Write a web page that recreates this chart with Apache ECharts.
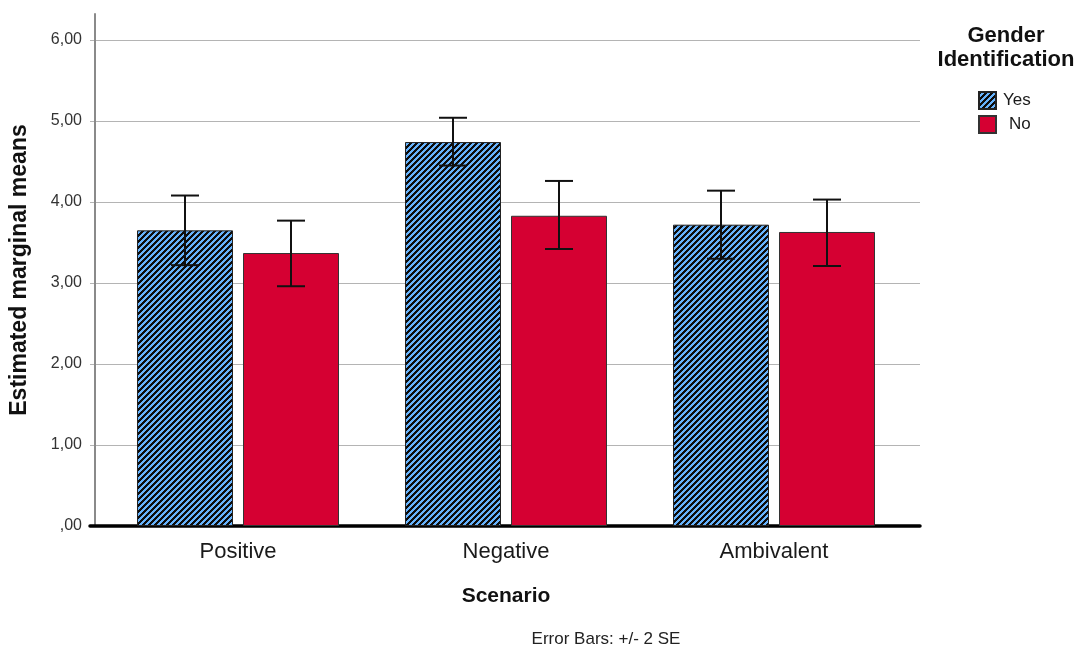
<!DOCTYPE html>
<html>
<head>
<meta charset="utf-8">
<script src="https://cdn.jsdelivr.net/npm/echarts@6/dist/echarts.min.js"></script>
<style>
  html, body { margin: 0; padding: 0; background: #fff; }
  #chart { width: 1084px; height: 666px; }
</style>
</head>
<body>
<div id="chart"></div>
<script>
// 数据
const categories = ['Positive', 'Negative', 'Ambivalent'];
const seriesNames = ['Yes', 'No'];
const yesMeans = [3.65, 4.74, 3.72];
const noMeans = [3.37, 3.83, 3.63];
// 误差线 +/- 2 SE
const yesLow = [3.22, 4.45, 3.30];
const yesHigh = [4.08, 5.04, 4.14];
const noLow = [2.96, 3.42, 3.21];
const noHigh = [3.77, 4.26, 4.03];
const yTicks = [0, 1, 2, 3, 4, 5, 6];

const FONT = '"Liberation Sans", Arial, sans-serif';
const BAR_W = 96;
const BAR_GAP = 10;
const CAP_W = 28;

// 斜线填充（逐像素，避免抗锯齿发灰）
function makeHatch() {
    const s = 6;
    const c = document.createElement('canvas');
    c.width = s; c.height = s;
    const ctx = c.getContext('2d');
    for (let y = 0; y < s; y++) {
        for (let x = 0; x < s; x++) {
            ctx.fillStyle = ((x + y) % s) < 3 ? '#0d0d0d' : '#66b2fc';
            ctx.fillRect(x, y, 1, 1);
        }
    }
    return c;
}
const hatch = { image: makeHatch(), repeat: 'repeat' };
const red = '#d50032';

const chart = echarts.init(document.getElementById('chart'), null, { renderer: 'canvas' });

function errorSeries(name, low, high, offset) {
    return {
        name: name + ' err',
        type: 'custom',
        xAxisIndex: 2,
        yAxisIndex: 2,
        z: 5,
        data: categories.map((c, i) => [i, low[i], high[i]]),
        renderItem: function (params, api) {
            const lo = api.coord([api.value(0), api.value(1)]);
            const hi = api.coord([api.value(0), api.value(2)]);
            const x = lo[0] + offset;
            const style = { stroke: '#111', lineWidth: 2 };
            return {
                type: 'group',
                children: [
                    { type: 'line', shape: { x1: x, y1: hi[1], x2: x, y2: lo[1] }, style: style },
                    { type: 'line', shape: { x1: x - CAP_W / 2, y1: hi[1], x2: x + CAP_W / 2, y2: hi[1] }, style: style },
                    { type: 'line', shape: { x1: x - CAP_W / 2, y1: lo[1], x2: x + CAP_W / 2, y2: lo[1] }, style: style }
                ]
            };
        }
    };
}

const off = (BAR_W + BAR_GAP) / 2;

const option = {
    animation: false,
    textStyle: { fontFamily: FONT },
    grid: [
        // 0: y 轴线（到顶部）
        { left: 90, right: 164, top: 14, bottom: 140 },
        // 1: 刻度、网格线、底部粗线
        { left: 90, right: 164, top: 40, bottom: 140 },
        // 2: 柱子
        { left: 104, right: 176, top: 40, bottom: 140 }
    ],
    xAxis: [
        { gridIndex: 0, type: 'category', data: categories, show: false },
        {
            gridIndex: 1, type: 'category', data: categories,
            axisLine: { lineStyle: { color: '#000', width: 3.5 } },
            axisTick: { show: false }, axisLabel: { show: false }
        },
        {
            gridIndex: 2, type: 'category', data: categories,
            axisLine: { show: false }, axisTick: { show: false },
            axisLabel: { fontSize: 22, color: '#1a1a1a', margin: 15, fontFamily: FONT },
            name: 'Scenario', nameLocation: 'middle', nameGap: 60,
            nameTextStyle: { fontSize: 21, fontWeight: 'bold', color: '#111', fontFamily: FONT }
        }
    ],
    yAxis: [
        {
            gridIndex: 0, type: 'value', min: 0, max: 6.32,
            axisLine: { show: true, lineStyle: { color: '#8a8a8a', width: 2 } },
            axisTick: { show: false }, axisLabel: { show: false }, splitLine: { show: false },
            name: 'Estimated marginal means', nameLocation: 'middle', nameGap: 64,
            nameTextStyle: { fontSize: 23, fontWeight: 'bold', color: '#111', fontFamily: FONT }
        },
        {
            gridIndex: 1, type: 'value', min: yTicks[0], max: yTicks[yTicks.length - 1], interval: 1,
            axisLine: { show: false }, axisTick: { show: false },
            axisLabel: {
                fontSize: 16, color: '#333', margin: 8, fontFamily: FONT,
                formatter: v => (v === 0 ? ',00' : v.toFixed(2).replace('.', ','))
            },
            splitLine: { lineStyle: { color: '#b4b4b4', width: 1 } }
        },
        {
            gridIndex: 2, type: 'value', min: yTicks[0], max: yTicks[yTicks.length - 1], interval: 1,
            show: false
        }
    ],
    legend: {
        orient: 'vertical',
        left: 973, top: 86,
        icon: 'rect',
        itemWidth: 17, itemHeight: 17, itemGap: 5,
        data: [
            { name: seriesNames[0], textStyle: { padding: [0, 0, 0, 2] } },
            { name: seriesNames[1], textStyle: { padding: [0, 0, 0, 8] } }
        ],
        textStyle: { fontSize: 17, color: '#1a1a1a', fontFamily: FONT }
    },
    graphic: [
        {
            type: 'text', x: 1006, y: 24,
            style: {
                text: 'Gender\nIdentification', fill: '#111',
                font: 'bold 22px ' + FONT, lineHeight: 24, align: 'center'
            }
        },
        {
            type: 'text', x: 606, y: 631,
            style: {
                text: 'Error Bars: +/- 2 SE', fill: '#222',
                font: '17px ' + FONT, align: 'center'
            }
        }
    ],
    series: [
        {
            name: 'Yes', type: 'bar', xAxisIndex: 2, yAxisIndex: 2,
            data: yesMeans, barWidth: BAR_W, barGap: (BAR_GAP / BAR_W * 100) + '%',
            itemStyle: { color: hatch, borderColor: '#222', borderWidth: 1 }
        },
        {
            name: 'No', type: 'bar', xAxisIndex: 2, yAxisIndex: 2,
            data: noMeans, barWidth: BAR_W,
            itemStyle: { color: red, borderColor: '#333', borderWidth: 1 }
        },
        errorSeries('Yes', yesLow, yesHigh, -off),
        errorSeries('No', noLow, noHigh, off)
    ]
};

chart.setOption(option);
</script>
</body>
</html>
